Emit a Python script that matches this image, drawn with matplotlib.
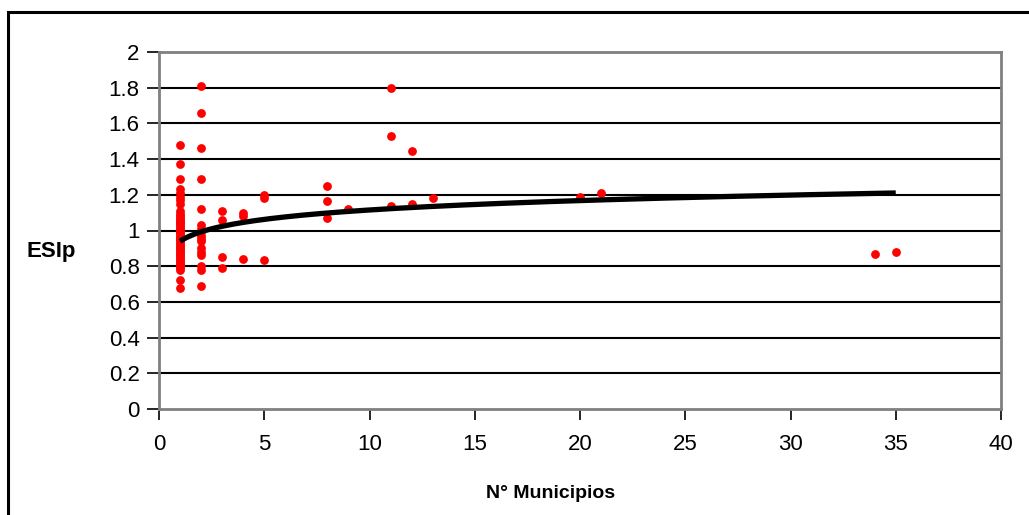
import numpy as np
import matplotlib
matplotlib.use("Agg")
import matplotlib.pyplot as plt
from matplotlib.patches import Rectangle

# ---- data ----
x1_vals = [1.48, 1.37, 1.29, 1.23, 1.21, 1.19, 1.17, 1.15,
           1.11, 1.09, 1.08, 1.07, 1.06, 1.05, 1.04, 1.03, 1.02, 1.01, 1.00,
           0.99, 0.98, 0.97, 0.96, 0.95, 0.94, 0.93, 0.92, 0.91, 0.90, 0.89,
           0.88, 0.87, 0.86, 0.85, 0.84, 0.83, 0.82, 0.81, 0.80, 0.79, 0.78,
           0.72, 0.68]
x2_vals = [1.81, 1.66, 1.46, 1.29, 1.12, 1.03, 1.01, 0.99, 0.97, 0.95, 0.94,
           0.90, 0.88, 0.86, 0.80, 0.78, 0.69]
x3_vals = [1.11, 1.06, 0.85, 0.79]
x4_vals = [1.10, 1.08, 0.84]
x5_vals = [1.20, 1.18, 0.835]
other_x = [8, 8, 8, 9, 11, 11, 11, 12, 12, 13, 20, 21, 34, 35]
other_y = [1.25, 1.165, 1.07, 1.12, 1.80, 1.53, 1.14, 1.445, 1.15, 1.18,
           1.185, 1.21, 0.87, 0.88]

# logarithmic trend line: y = a + b*ln(x)
trend_a = 0.94
trend_b = 0.076
trend_x_range = [1, 35]

x_ticks = [0, 5, 10, 15, 20, 25, 30, 35, 40]
y_ticks = [0, 0.2, 0.4, 0.6, 0.8, 1, 1.2, 1.4, 1.6, 1.8, 2]
y_tick_labels = ["0", "0.2", "0.4", "0.6", "0.8", "1", "1.2", "1.4", "1.6", "1.8", "2"]
x_label = "N° Municipios"
y_label = "ESIp"

font = "Liberation Sans"

xs = ([1] * len(x1_vals) + [2] * len(x2_vals) + [3] * len(x3_vals)
      + [4] * len(x4_vals) + [5] * len(x5_vals) + other_x)
ys = x1_vals + x2_vals + x3_vals + x4_vals + x5_vals + other_y

fig = plt.figure(figsize=(10.29, 5.15), dpi=100)
fig.patches.append(Rectangle((8 / 1029, -0.1), 1.2, 1 - 12 / 515 + 0.1,
                             transform=fig.transFigure, fill=False,
                             edgecolor="black", linewidth=2.2))
ax = fig.add_axes([159 / 1029, 1 - 409 / 515, (1001 - 159) / 1029, (409 - 52) / 515])

ax.set_xlim(0, 40)
ax.set_ylim(0, 2)
for v in y_ticks[1:-1]:
    ax.axhline(v, color="black", linewidth=1.5, zorder=1)

ax.scatter(xs, ys, s=40, color="#ff0000", marker="o", linewidths=0, zorder=3)

tx = np.linspace(trend_x_range[0], trend_x_range[1], 200)
ax.plot(tx, trend_a + trend_b * np.log(tx), color="black", linewidth=3.8, zorder=4,
        solid_capstyle="butt")

for side in ["top", "right", "left", "bottom"]:
    ax.spines[side].set_color("#808080")
    ax.spines[side].set_linewidth(2)

ax.set_xticks(x_ticks)
ax.set_yticks(y_ticks)
ax.set_yticklabels(y_tick_labels)
ax.tick_params(axis="both", direction="out", color="black", width=1.2,
               labelsize=16)
ax.tick_params(axis="y", length=9, pad=5)
ax.tick_params(axis="x", length=8, pad=10)
for lab in ax.get_xticklabels() + ax.get_yticklabels():
    lab.set_fontfamily(font)

fig.text(51 / 1029, 1 - 251 / 515, y_label, ha="center", va="center",
         fontsize=16, fontweight="bold", family=font)
fig.text(551 / 1029, 1 - 493 / 515, x_label, ha="center", va="center",
         fontsize=14, fontweight="bold", family=font)

fig.savefig("out.png", dpi=100)
